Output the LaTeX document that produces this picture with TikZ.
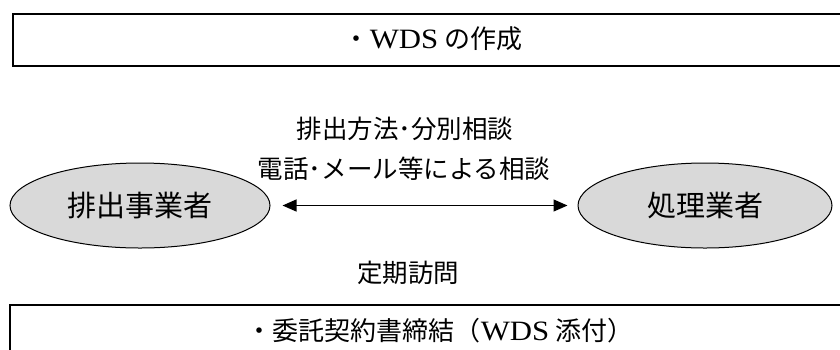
\documentclass[tikz,border=0pt]{standalone}
\usepackage{fontspec}
\setmainfont{Liberation Serif}
\newfontfamily\jp{Noto Sans CJK JP}
\newfontfamily\lat[FakeStretch=1.1]{Liberation Serif}
\usetikzlibrary{arrows.meta,shapes.geometric}
\newcommand{\boxfont}{\fontsize{26}{30}\selectfont}
\newcommand{\latw}[1]{{\lat\fontsize{28}{30}\selectfont #1}}
\begin{document}
\begin{tikzpicture}[x=1pt,y=-1pt,
  boxstyle/.style={draw=black,line width=1.5pt},
  party/.style={ellipse,draw=black,line width=1pt,fill=black!15,inner sep=0pt,font=\jp\fontsize{29}{32}\selectfont},
  lbl/.style={font=\jp\fontsize{25.5}{28}\selectfont,inner sep=0pt},
  boxtext/.style={font=\jp\boxfont,inner sep=0pt},
  link/.style={line width=1.3pt,>={Triangle[length=14pt,width=12pt]},<->}]
\useasboundingbox (0,0) rectangle (840,349);
\draw[boxstyle] (13,14) rectangle (860,66);
\node[boxtext] (toptext) at (433,39) {・\latw{WDS}\hspace{6pt}の作成};
\draw[boxstyle] (10,305) rectangle (860,370);
\node[boxtext] (bottext) at (440,331) {・委託契約書締結（\latw{WDS}\hspace{6pt}添付）};
\node[party,minimum width=260pt,minimum height=85pt] (gen) at (140,205.5) {\raisebox{1pt}{排出事業者}};
\node[party,minimum width=254pt,minimum height=85pt] (proc) at (705,205.5) {\raisebox{1pt}{処理業者}};
\node[lbl] (l1) at (405,129) {排出方法･分別相談};
\node[lbl] (l2) at (404,169) {電話･メール等による相談};
\node[lbl] (l3) at (408,273) {定期訪問};
\draw[link,shorten <=12pt,shorten >=10pt] (gen.east) -- (proc.west);
\end{tikzpicture}
\end{document}
